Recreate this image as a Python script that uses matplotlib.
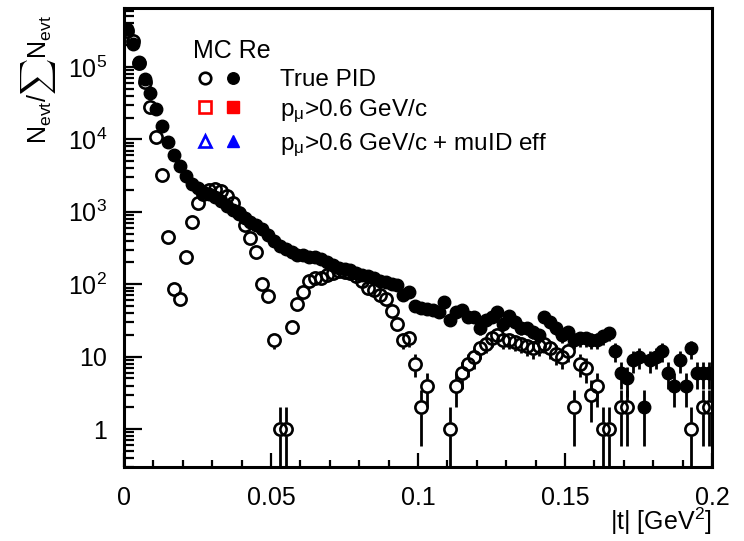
import numpy as np
import matplotlib
matplotlib.use("Agg")
import matplotlib.pyplot as plt
from matplotlib.lines import Line2D
from matplotlib.legend_handler import HandlerTuple
from matplotlib.ticker import MultipleLocator, FixedLocator, LogLocator, NullFormatter, FuncFormatter

plt.rcParams["font.family"] = ["Liberation Sans", "DejaVu Sans"]
plt.rcParams["mathtext.fontset"] = "custom"
plt.rcParams["mathtext.rm"] = "Liberation Sans"
plt.rcParams["mathtext.it"] = "Liberation Sans:italic"
plt.rcParams["mathtext.bf"] = "Liberation Sans:bold"

# =============================================================
# DATOS: histograma en |t|, 100 bins entre 0 y 0.2 GeV^2
# =============================================================
t_min, t_max, n_bins = 0.0, 0.2, 100

# marcadores abiertos (True PID)
counts_open = [
    316000, 229000, 112000, 61700, 28200, 10700, 3240, 447, 87, 63,
    240, 724, 1320, 1740, 1995, 2090, 1950, 1660, 1320, 955,
    661, 437, 275, 100, 68, 17, 1, 1, 26, 54,
    78, 110, 120, 123, 135, 145, 151, 148, 141, 129,
    112, 89, 83, 72, 63, 43, 28, 17, 18, 8,
    2, 4, 0, 0, 0, 1, 4, 6, 8, 10,
    13, 15, 18, 20, 17, 17, 16, 15, 14, 13,
    14, 15, 13, 11, 10, 12, 2, 8, 7, 3,
    4, 1, 1, 0, 2, 2, 0, 0, 0, 0,
    0, 0, 0, 0, 0, 0, 1, 0, 2, 2,
]

# marcadores llenos (True PID)
counts_full = [
    331000, 209000, 117000, 69000, 43600, 26300, 15100, 9330, 6030, 4270,
    3160, 2450, 2140, 1905, 1740, 1585, 1410, 1200, 1050, 933,
    813, 724, 661, 575, 479, 398, 339, 302, 282, 257,
    251, 240, 234, 224, 204, 186, 170, 162, 155, 145,
    135, 129, 120, 112, 107, 102, 98, 71, 78, 50,
    47, 45, 44, 41, 56, 32, 42, 44, 35, 35,
    25, 32, 35, 42, 28, 36, 30, 25, 25, 22,
    20, 35, 30, 25, 20, 22, 17, 18, 18, 17,
    17, 19, 21, 12, 6, 5, 9, 10, 2, 9,
    10, 12, 6, 4, 9, 4, 13, 6, 6, 6,
]

legend_title = "MC Re"
legend_labels = ["True PID", r"p$_{\mathrm{\mu}}$>0.6 GeV/c", r"p$_{\mathrm{\mu}}$>0.6 GeV/c + muID eff"]

edges = np.linspace(t_min, t_max, n_bins + 1)
t = 0.5 * (edges[:-1] + edges[1:])
n_open = np.array(counts_open, dtype=float)
n_full = np.array(counts_full, dtype=float)

# =============================================================
# FIGURA
# =============================================================
fig = plt.figure(figsize=(7.44, 5.41), dpi=100)
ax = fig.add_axes([124 / 744, 1 - 467 / 541, 588 / 744, 459 / 541])
ax.set_yscale("log")
ax.set_xlim(t_min, t_max)
ax.set_ylim(0.3, 6.5e5)

# --- llenos: barras de error poissonianas
m = n_full > 0
ax.errorbar(t[m], n_full[m], yerr=np.sqrt(n_full[m]), fmt="o", color="black",
            ms=9, elinewidth=2.0, capsize=0, zorder=3)

# --- abiertos: barras con hueco alrededor del marcador (estilo ROOT)
m = n_open > 0
to, no = t[m], n_open[m]
err = np.sqrt(no)
gap = 10 ** 0.095
up = no + err > no * gap
ax.vlines(to[up], no[up] * gap, (no + err)[up], color="black", lw=2.0, zorder=4)
lo = no - err < no / gap
ax.vlines(to[lo], np.maximum(no - err, 1e-3)[lo], no[lo] / gap, color="black", lw=2.0, zorder=4)
ax.plot(to, no, ls="none", marker="o", ms=8.8, mfc="none", mec="black", mew=1.9, zorder=5)

# =============================================================
# EJES
# =============================================================
for s in ax.spines.values():
    s.set_linewidth(2.2)

ax.xaxis.set_major_locator(FixedLocator([0, 0.05, 0.1, 0.15, 0.2]))
ax.xaxis.set_major_formatter(FuncFormatter(lambda v, p: f"{v:g}"))
ax.xaxis.set_minor_locator(MultipleLocator(0.01))
ax.yaxis.set_major_locator(LogLocator(base=10, numticks=12))
ax.yaxis.set_minor_locator(LogLocator(base=10, subs=np.arange(2, 10), numticks=12))
ax.yaxis.set_minor_formatter(NullFormatter())


def fmt_y(v, pos):
    if v < 0.5:
        return ""
    k = int(round(np.log10(v)))
    if k == 0:
        return "1"
    if k == 1:
        return "10"
    return r"$10^{%d}$" % k


ax.yaxis.set_major_formatter(FuncFormatter(fmt_y))
ax.tick_params(which="both", direction="in", top=False, right=False, width=1.6, labelsize=18)
ax.tick_params(axis="x", which="major", length=10, pad=14)
ax.tick_params(axis="x", which="minor", length=5)
ax.tick_params(axis="y", which="major", length=13, pad=12)
ax.tick_params(axis="y", which="minor", length=7)

ax.set_xlabel(r"|t| [GeV$^{2}$]", fontsize=18, loc="right")
ax.xaxis.set_label_coords(1.0, -0.085)
ax.set_ylabel(r"$\mathregular{N_{evt}/}\sum\mathregular{N_{evt}}$", fontsize=18, loc="top",
              math_fontfamily="cm")
ax.yaxis.set_label_coords(-0.112, 0.985)

# =============================================================
# LEYENDA
# =============================================================
handles = [
    (Line2D([], [], ls="none", marker="o", ms=8.3, mfc="none", mec="black", mew=1.9),
     Line2D([], [], ls="none", marker="o", ms=8.3, color="black")),
    (Line2D([], [], ls="none", marker="s", ms=8, mfc="none", mec="red", mew=1.9),
     Line2D([], [], ls="none", marker="s", ms=8, color="red")),
    (Line2D([], [], ls="none", marker="^", ms=8.8, mfc="none", mec="blue", mew=1.9),
     Line2D([], [], ls="none", marker="^", ms=8.8, color="blue")),
]
ax.legend(handles, legend_labels, handler_map={tuple: HandlerTuple(ndivide=None, pad=0.16)},
          title=legend_title, title_fontsize=18, fontsize=17.5, alignment="left",
          loc="upper left", bbox_to_anchor=(0.118, 0.933), frameon=False, borderpad=0,
          handlelength=2.14, handletextpad=1.44, labelspacing=0.26, borderaxespad=0)

fig.savefig("out.png", dpi=100)
